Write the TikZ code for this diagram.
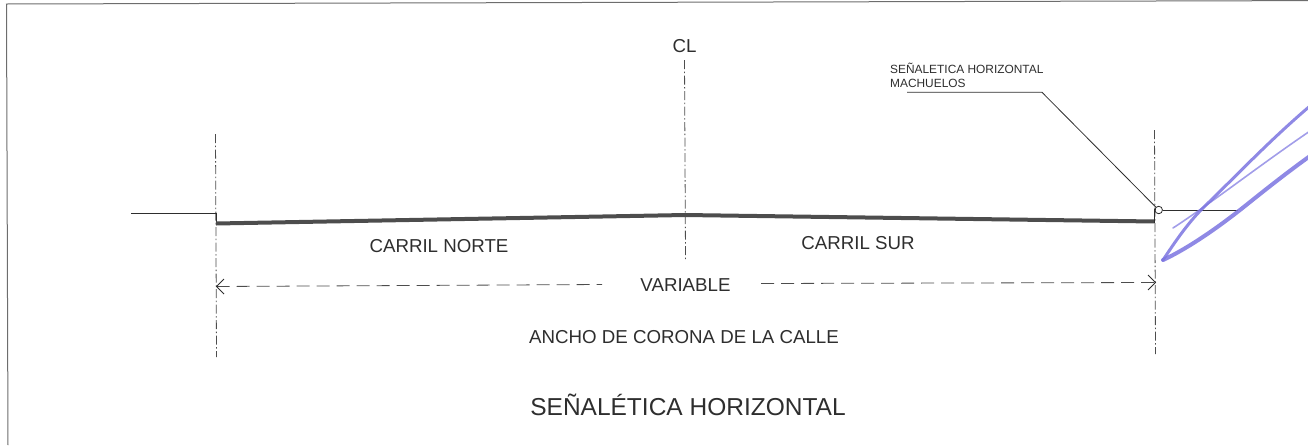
\documentclass[tikz,border=0pt]{standalone}
\usepackage{fontspec}
\setmainfont{Liberation Sans}
\definecolor{ink}{HTML}{2E2E2E}
\definecolor{pen}{HTML}{7B74E0}
\tikzset{
  px/.style={x=1pt,y=-1pt},
  centerline/.style={draw=ink!85,line width=0.8pt,dash pattern=on 9pt off 2.5pt on 1.5pt off 2.5pt},
  dimline/.style={draw=ink!85,line width=0.8pt,dash pattern=on 13pt off 7pt},
  thinline/.style={draw=ink,line width=0.8pt},
  frameline/.style={draw=ink!70,line width=1pt},
  road/.style={draw=ink!85,line width=4pt},
  label/.style={inner sep=0pt,text=ink,font=\fontsize{18.7}{22}\selectfont},
  small/.style={inner sep=0pt,text=ink,font=\fontsize{11.9}{14}\selectfont,align=left},
  penstroke/.style={draw=pen,line cap=round,line join=round,opacity=0.85},
  tick/.style={draw=ink,line width=0.8pt}
}
\begin{document}
\begin{tikzpicture}[px]
\useasboundingbox (0,0) rectangle (1308,445);
% frame
\coordinate (fa) at (8,445);
\coordinate (fb) at (6.5,4);
\coordinate (fc) at (1308,0.6);
\draw[frameline] (fa) -- (fb) -- (fc);
% centre lines
\coordinate (l1) at (215.5,134); \coordinate (l2) at (216.5,357);
\coordinate (c1) at (684.5,60); \coordinate (c2) at (685.5,259);
\coordinate (r1) at (1154.5,130); \coordinate (r2) at (1155.5,354);
\draw[centerline] (l1) -- (l2);
\draw[centerline] (c1) -- (c2);
\draw[centerline] (r1) -- (r2);
% road
\coordinate (g0) at (131,213.7);
\coordinate (g1) at (216,213.7);
\coordinate (g2) at (216,223.5);
\coordinate (gm) at (685,215);
\coordinate (g3) at (1154.5,221.5);
\coordinate (g4) at (1154.5,209.5);
\coordinate (g5) at (1238,210);
\draw[thinline,line width=0.9pt] (g0) -- (g1) -- (216,222);
\draw[road] (g2) -- (gm) -- (g3);
\draw[thinline,line width=1.2pt] (1154.5,223) -- (g4) -- (1156,209.5);
\node[draw=ink,line width=0.8pt,circle,minimum size=7.5pt,inner sep=0pt] (stud) at (1158.7,210) {};
\draw[thinline] (stud.east) -- (g5);
% leader
\node[small,anchor=north west] (lead) at (890,62.5) {SEÑALETICA HORIZONTAL\\MACHUELOS};
\coordinate (k1) at (907,92.3);
\coordinate (k2) at (1042,92.3);
\draw[thinline] (k1) -- (k2) -- (stud.north west);
% texts
\node[label] (cl) at (684.5,46) {CL};
\node[label] (cn) at (439,246) {CARRIL NORTE};
\node[label] (cs) at (858,243) {CARRIL SUR};
\node[label] (var) at (685.5,285) {VARIABLE};
\node[label] (anc) at (684,337) {ANCHO DE CORONA DE LA CALLE};
\node[inner sep=0pt,text=ink,font=\fontsize{24.5}{29}\selectfont] (tit) at (688,405) {SEÑALÉTICA HORIZONTAL};
% dimension
\coordinate (d1) at (216.5,286.5);
\coordinate (d2) at (1155.5,282.5);
\coordinate (d1b) at (602,284.5);
\coordinate (d2b) at (761,283.5);
\draw[dimline] (d1) -- (d1b);
\draw[dimline] (d2b) -- (d2);
\draw[tick] (224,279) -- (d1) -- (224,294);
\draw[tick] (1148,275) -- (d2) -- (1148,290);
% pen marks
\coordinate (p0) at (1163,260);
\coordinate (pa) at (1206,205);
\coordinate (pb) at (1310,106);
\coordinate (pc) at (1310,156);
\coordinate (pd) at (1173,228);
\coordinate (pe) at (1310,131);
\draw[penstroke,line width=3pt] (p0) .. controls (1173,245) and (1188,222) .. (pa) .. controls (1235,177) and (1270,140) .. (pb);
\draw[penstroke,line width=4pt] (p0) .. controls (1195,245) and (1230,218) .. (1245,206) .. controls (1265,190) and (1285,174) .. (pc);
\draw[penstroke,line width=1.6pt,opacity=0.7] (pd) .. controls (1210,204) and (1260,165) .. (pe);
\end{tikzpicture}
\end{document}
